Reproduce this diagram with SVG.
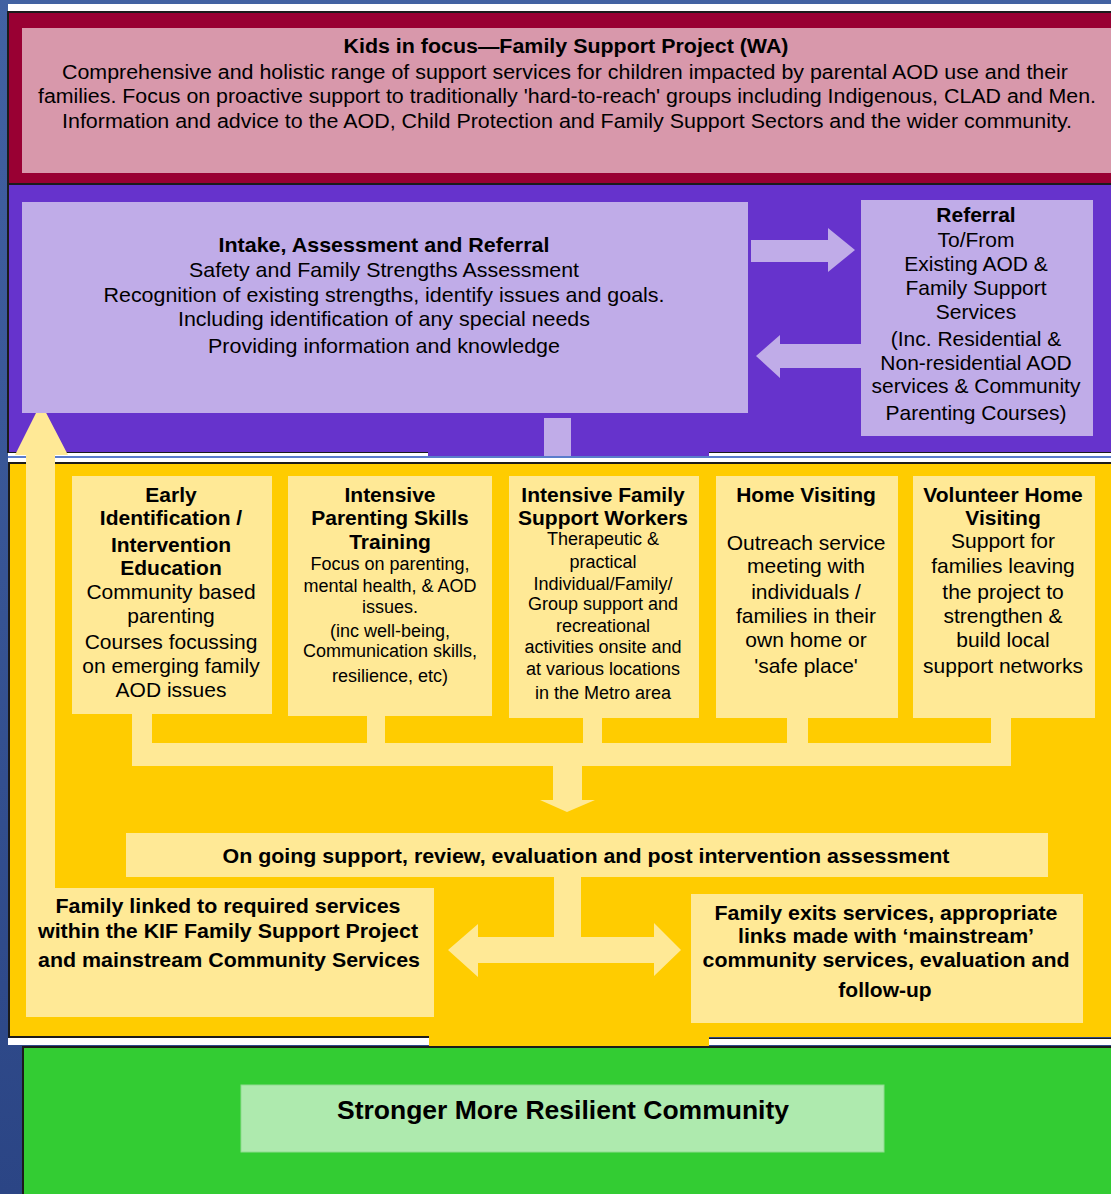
<svg xmlns="http://www.w3.org/2000/svg" width="1111" height="1194" viewBox="0 0 1111 1194">
<defs>
<linearGradient id="bg" x1="0" y1="0" x2="0" y2="1">
<stop offset="0" stop-color="#4262a2"/>
<stop offset="1" stop-color="#2b4585"/>
</linearGradient>
<style>
.t{font-family:"Liberation Sans",Arial,sans-serif;fill:#000;text-anchor:middle;font-size:21px}
.b{font-weight:bold}
.f20{font-size:20px}
.f18{font-size:18px}
.f26{font-size:26px}
.lav{fill:#c0ace8}
.ly{fill:#ffe996}
.dk{fill:#1b1b1b}
.wh{fill:#ffffff}
</style>
</defs>
<rect width="1111" height="1194" fill="url(#bg)"/>
<!-- top frame -->
<rect class="wh" x="8" y="4" width="1103" height="8"/>
<!-- crimson band -->
<rect x="8" y="12" width="1103" height="173" fill="#990033"/>
<rect class="dk" x="7" y="11" width="1104" height="2"/>
<rect class="dk" x="7" y="11" width="2" height="174"/>
<rect class="dk" x="7" y="183" width="1104" height="2"/>
<!-- purple band -->
<rect x="9" y="185" width="1102" height="271" fill="#6633cc"/>
<rect class="dk" x="7" y="185" width="2" height="268"/>
<rect class="dk" x="8" y="452" width="420" height="1"/>
<rect class="wh" x="8" y="453" width="420" height="3"/>
<rect class="dk" x="709" y="452" width="402" height="1"/>
<rect class="wh" x="709" y="453" width="402" height="3"/>
<rect x="8" y="456" width="1103" height="2" fill="#5a7ccc"/>
<rect class="wh" x="8" y="458" width="1103" height="4"/>
<rect class="dk" x="8" y="462" width="1103" height="2"/>
<!-- yellow band -->
<rect x="9" y="464" width="1102" height="573" fill="#ffcc00"/>
<rect class="dk" x="8" y="462" width="2" height="576"/>
<rect class="dk" x="8" y="1036" width="421" height="2"/>
<rect class="dk" x="709" y="1038" width="402" height="1"/>
<rect x="429" y="1036" width="280" height="10" fill="#ffcc00"/>
<rect class="wh" x="8" y="1038" width="421" height="7"/>
<rect class="wh" x="709" y="1039" width="402" height="6"/>
<!-- green band -->
<rect x="23" y="1047" width="1088" height="147" fill="#33cc33"/>
<rect class="dk" x="22" y="1046" width="1089" height="2"/>
<rect class="dk" x="22" y="1046" width="2" height="148"/>

<g id="connectors">
<polygon class="lav" points="751,240 828,240 828,228 855,250 828,272 828,262 751,262"/>
<polygon class="lav" points="756,356 780,335 780,344 861,344 861,368 780,368 780,378"/>
<rect class="lav" x="544" y="418" width="27" height="38"/>
<polygon class="ly" points="26,890 26,455 15,455 41,403 68,455 55,455 55,890"/>
<rect class="ly" x="132" y="714" width="20" height="50"/>
<rect class="ly" x="367" y="714" width="18" height="40"/>
<rect class="ly" x="583" y="716" width="19" height="38"/>
<rect class="ly" x="787" y="716" width="21" height="38"/>
<rect class="ly" x="991" y="716" width="20" height="40"/>
<rect class="ly" x="132" y="743" width="879" height="23"/>
<polygon class="ly" points="553,766 582,766 582,800 595,800 567,812 540,800 553,800"/>
<polygon class="ly" points="554,876 581,876 581,937 654,937 654,923 681,950 654,976 654,963 478,963 478,977 448,950 478,924 478,937 554,937"/>
</g>

<g id="top-banner">
<rect x="22" y="28" width="1089" height="145" fill="#d898ab"/>
<text class="t b f20" x="566" y="53" textLength="445" lengthAdjust="spacingAndGlyphs">Kids in focus—Family Support Project (WA)</text>
<text class="t f20" x="565" y="79" textLength="1006" lengthAdjust="spacingAndGlyphs">Comprehensive and holistic range of support services for children impacted by parental AOD use and their</text>
<text class="t f20" x="567" y="103" textLength="1058" lengthAdjust="spacingAndGlyphs">families. Focus on proactive support to traditionally 'hard-to-reach' groups including Indigenous, CLAD and Men.</text>
<text class="t f20" x="567" y="128" textLength="1010" lengthAdjust="spacingAndGlyphs">Information and advice to the AOD, Child Protection and Family Support Sectors and the wider community.</text>
</g>

<g id="intake">
<rect class="lav" x="22" y="202" width="726" height="211"/>
<text class="t b" x="384" y="252" textLength="331" lengthAdjust="spacingAndGlyphs">Intake, Assessment and Referral</text>
<text class="t" x="384" y="277" textLength="390" lengthAdjust="spacingAndGlyphs">Safety and Family Strengths Assessment</text>
<text class="t" x="384" y="302" textLength="561" lengthAdjust="spacingAndGlyphs">Recognition of existing strengths, identify issues and goals.</text>
<text class="t" x="384" y="326" textLength="412" lengthAdjust="spacingAndGlyphs">Including identification of any special needs</text>
<text class="t" x="384" y="353" textLength="352" lengthAdjust="spacingAndGlyphs">Providing information and knowledge</text>
</g>

<g id="referral">
<rect class="lav" x="861" y="200" width="232" height="236"/>
<text class="t b" x="976" y="222">Referral</text>
<text class="t" x="976" y="247">To/From</text>
<text class="t" x="976" y="271">Existing AOD &amp;</text>
<text class="t" x="976" y="295">Family Support</text>
<text class="t" x="976" y="319">Services</text>
<text class="t" x="976" y="346">(Inc. Residential &amp;</text>
<text class="t" x="976" y="370">Non-residential AOD</text>
<text class="t" x="976" y="393">services &amp; Community</text>
<text class="t" x="976" y="420">Parenting Courses)</text>
</g>

<g id="early-identification">
<rect class="ly" x="72" y="476" width="200" height="238"/>
<text class="t b" x="171" y="502">Early</text>
<text class="t b" x="171" y="525">Identification /</text>
<text class="t b" x="171" y="552">Intervention</text>
<text class="t b" x="171" y="575">Education</text>
<text class="t" x="171" y="599">Community based</text>
<text class="t" x="171" y="623">parenting</text>
<text class="t" x="171" y="649">Courses focussing</text>
<text class="t" x="171" y="673">on emerging family</text>
<text class="t" x="171" y="697">AOD issues</text>
</g>

<g id="parenting-skills">
<rect class="ly" x="288" y="476" width="204" height="240"/>
<text class="t b" x="390" y="502">Intensive</text>
<text class="t b" x="390" y="525">Parenting Skills</text>
<text class="t b" x="390" y="549">Training</text>
<text class="t f18" x="390" y="570">Focus on parenting,</text>
<text class="t f18" x="390" y="592">mental health, &amp; AOD</text>
<text class="t f18" x="390" y="613">issues.</text>
<text class="t f18" x="390" y="637">(inc well-being,</text>
<text class="t f18" x="390" y="657">Communication skills,</text>
<text class="t f18" x="390" y="682">resilience, etc)</text>
</g>

<g id="family-support-workers">
<rect class="ly" x="509" y="476" width="190" height="242"/>
<text class="t b" x="603" y="502">Intensive Family</text>
<text class="t b" x="603" y="525">Support Workers</text>
<text class="t f18" x="603" y="545">Therapeutic &amp;</text>
<text class="t f18" x="603" y="568">practical</text>
<text class="t f18" x="603" y="590">Individual/Family/</text>
<text class="t f18" x="603" y="610">Group support and</text>
<text class="t f18" x="603" y="632">recreational</text>
<text class="t f18" x="603" y="653">activities onsite and</text>
<text class="t f18" x="603" y="675">at various locations</text>
<text class="t f18" x="603" y="699">in the Metro area</text>
</g>

<g id="home-visiting">
<rect class="ly" x="716" y="476" width="182" height="242"/>
<text class="t b" x="806" y="502">Home Visiting</text>
<text class="t" x="806" y="550">Outreach service</text>
<text class="t" x="806" y="573">meeting with</text>
<text class="t" x="806" y="599">individuals /</text>
<text class="t" x="806" y="623">families in their</text>
<text class="t" x="806" y="647">own home or</text>
<text class="t" x="806" y="673">'safe place'</text>
</g>

<g id="volunteer-home-visiting">
<rect class="ly" x="913" y="476" width="182" height="242"/>
<text class="t b" x="1003" y="502">Volunteer Home</text>
<text class="t b" x="1003" y="525">Visiting</text>
<text class="t" x="1003" y="548">Support for</text>
<text class="t" x="1003" y="573">families leaving</text>
<text class="t" x="1003" y="599">the project to</text>
<text class="t" x="1003" y="623">strengthen &amp;</text>
<text class="t" x="1003" y="647">build local</text>
<text class="t" x="1003" y="673">support networks</text>
</g>

<g id="ongoing-support">
<rect class="ly" x="126" y="833" width="922" height="44"/>
<text class="t b" x="586" y="863" textLength="727" lengthAdjust="spacingAndGlyphs">On going support, review, evaluation and post intervention assessment</text>
</g>

<g id="family-linked">
<rect class="ly" x="26" y="888" width="408" height="129"/>
<text class="t b" x="228" y="913" textLength="345" lengthAdjust="spacingAndGlyphs">Family linked to required services</text>
<text class="t b" x="228" y="938" textLength="380" lengthAdjust="spacingAndGlyphs">within the KIF Family Support Project</text>
<text class="t b" x="229" y="967" textLength="382" lengthAdjust="spacingAndGlyphs">and mainstream Community Services</text>
</g>

<g id="family-exits">
<rect class="ly" x="691" y="894" width="392" height="129"/>
<text class="t b" x="886" y="920" textLength="343" lengthAdjust="spacingAndGlyphs">Family exits services, appropriate</text>
<text class="t b" x="886" y="943" textLength="296" lengthAdjust="spacingAndGlyphs">links made with ‘mainstream’</text>
<text class="t b" x="886" y="967" textLength="367" lengthAdjust="spacingAndGlyphs">community services, evaluation and</text>
<text class="t b" x="885" y="997">follow-up</text>
</g>

<g id="outcome">
<rect x="241" y="1085" width="643" height="67" fill="#aeeaae" stroke="#8fdc8f" stroke-width="1"/>
<text class="t b f26" x="563" y="1119" textLength="452" lengthAdjust="spacingAndGlyphs">Stronger More Resilient Community</text>
</g>
</svg>
